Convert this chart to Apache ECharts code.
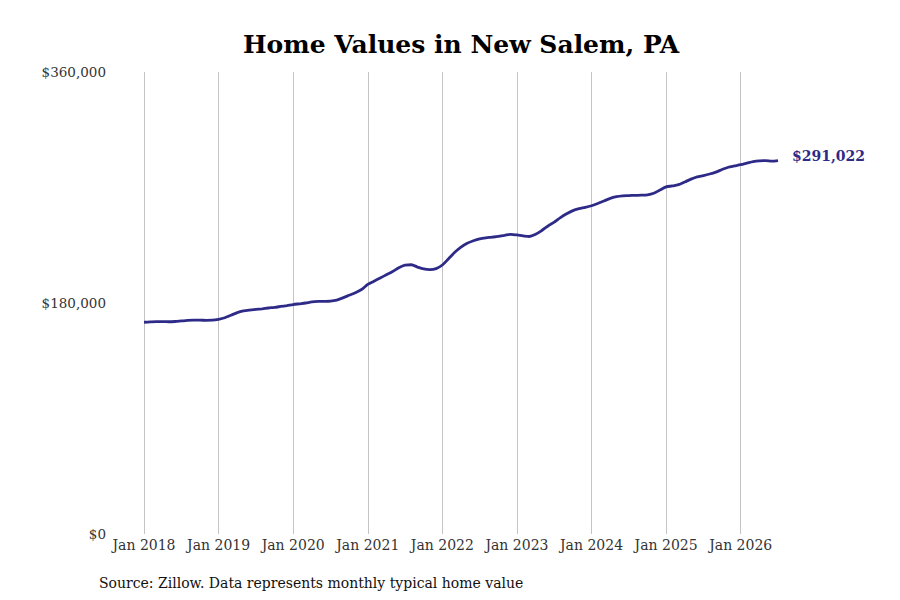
<!DOCTYPE html>
<html>
<head>
<meta charset="utf-8">
<script src="https://cdn.jsdelivr.net/npm/echarts@6/dist/echarts.min.js"></script>
<style>
  html, body { margin: 0; padding: 0; background: #fff; }
  #chart { width: 900px; height: 600px; }
</style>
</head>
<body>
<div id="chart"></div>
<script>
// monthly typical home value, Jan 2018 .. Jul 2026 (thousands of dollars)
var startYear = 2018;
var values2018 = [165.0, 165.3, 165.5, 165.5, 165.4, 165.6, 166.0, 166.4, 166.6, 166.6, 166.5, 166.6];
var values2019 = [167.3, 168.5, 170.5, 172.5, 173.8, 174.5, 175.0, 175.5, 176.1, 176.6, 177.3, 178.0];
var values2020 = [178.8, 179.4, 180.0, 180.8, 181.2, 181.3, 181.5, 182.3, 184.0, 186.0, 188.0, 190.5];
var values2021 = [194.5, 197.0, 199.5, 202.0, 204.5, 207.5, 209.5, 209.8, 208.0, 206.5, 206.0, 206.8];
var values2022 = [209.6, 214.5, 219.5, 223.5, 226.5, 228.5, 230.0, 230.8, 231.3, 232.0, 232.7, 233.5];
var values2023 = [233.0, 232.3, 231.8, 233.5, 236.5, 240.0, 243.0, 246.5, 249.5, 252.0, 253.5, 254.5];
var values2024 = [255.8, 257.5, 259.5, 261.5, 262.8, 263.5, 263.7, 263.9, 264.0, 264.3, 265.5, 268.0];
var values2025 = [270.5, 271.2, 272.2, 274.3, 276.5, 278.3, 279.3, 280.5, 282.0, 284.0, 285.8, 286.8];
var values2026 = [287.8, 289.0, 290.2, 290.8, 290.9, 290.6, 291.022];
var lastLabel = '$291,022';
var yTicks = [0, 180000, 360000];
var monthNames = ['Jan', 'Feb', 'Mar', 'Apr', 'May', 'Jun', 'Jul', 'Aug', 'Sep', 'Oct', 'Nov', 'Dec'];

var values = [].concat(values2018, values2019, values2020, values2021, values2022,
  values2023, values2024, values2025, values2026).map(function(v) { return Math.round(v * 1000); });
var months = values.map(function(v, i) {
  return monthNames[i % 12] + ' ' + (startYear + Math.floor(i / 12));
});

var lineColor = '#2e2b88';
var font = '"DejaVu Serif", serif';

var chart = echarts.init(document.getElementById('chart'), null, { renderer: 'svg' });

function money(v) {
  return '$' + v.toString().replace(/\B(?=(\d{3})+(?!\d))/g, ',');
}

chart.setOption({
  animation: false,
  title: {
    text: 'Home Values in New Salem, PA',
    left: 238,
    top: 27,
    textStyle: { fontFamily: font, fontWeight: 'bold', fontSize: 25, color: '#000' }
  },
  graphic: [{
    type: 'text',
    left: 99,
    top: 576,
    style: {
      text: 'Source: Zillow. Data represents monthly typical home value',
      font: '14px ' + font,
      fill: '#111'
    }
  }],
  grid: { left: 144, right: 122, top: 72, bottom: 66, containLabel: false },
  xAxis: {
    type: 'category',
    data: months,
    boundaryGap: false,
    axisLine: { show: false },
    axisTick: { show: false },
    axisLabel: {
      interval: function(i) { return i % 12 === 0; },
      color: '#333',
      fontFamily: font,
      fontSize: 14,
      margin: 4
    },
    splitLine: {
      show: true,
      interval: function(i) { return i % 12 === 0; },
      lineStyle: { color: '#c4c4c4', width: 1 }
    }
  },
  yAxis: {
    type: 'value',
    min: 0,
    max: 360000,
    interval: 180000,
    axisLine: { show: false },
    axisTick: { show: false },
    splitLine: { show: false },
    axisLabel: {
      color: '#333',
      fontFamily: font,
      fontSize: 13.5,
      margin: 38,
      formatter: function(v) { return yTicks.indexOf(v) >= 0 ? money(v) : ''; }
    }
  },
  series: [{
    type: 'line',
    data: values,
    smooth: 0.3,
    symbol: 'none',
    lineStyle: { color: lineColor, width: 2.8 },
    endLabel: {
      show: true,
      formatter: function() { return lastLabel; },
      color: lineColor,
      fontFamily: font,
      fontWeight: 'bold',
      fontSize: 14,
      distance: 14,
      offset: [0, -5]
    }
  }]
});
</script>
</body>
</html>
